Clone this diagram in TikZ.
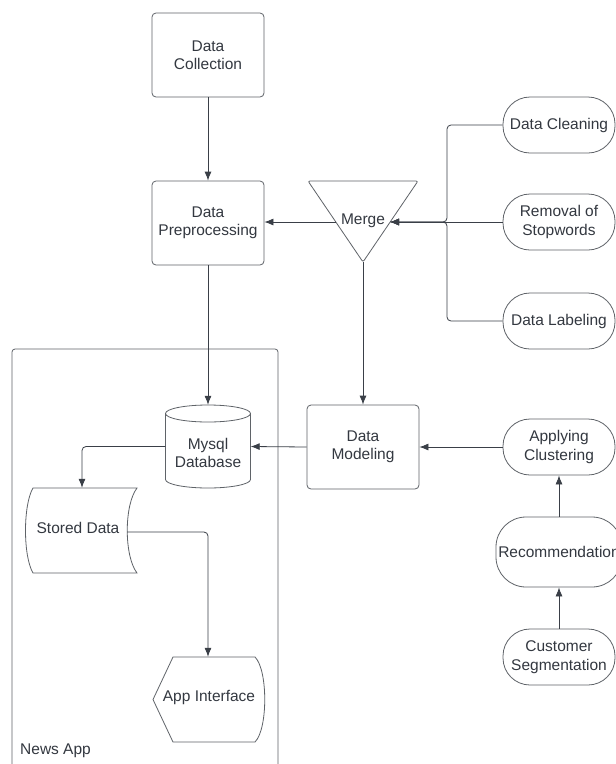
\documentclass[tikz,border=0pt]{standalone}
\usepackage{fontspec}
\setmainfont{Liberation Sans}
\usetikzlibrary{arrows.meta}
\definecolor{ln}{HTML}{3A3F47}
\definecolor{bd}{HTML}{5F6368}
\definecolor{tx}{HTML}{333840}
\begin{document}
\begin{tikzpicture}[x=1pt,y=-1pt,
 font=\fontsize{15.5}{18.5}\selectfont, text=tx,
 box/.style={draw=bd,line width=0.8pt,rounded corners=4pt,minimum width=112pt,minimum height=84pt,align=center,inner sep=0pt},
 pill/.style={draw=bd,line width=0.8pt,rounded corners=27pt,minimum width=112pt,minimum height=56pt,align=center,inner sep=0pt},
 ghost/.style={inner sep=0pt,align=center},
 conn/.style={draw=ln,line width=0.8pt,-{Latex[length=9pt,width=7pt]}},
 shp/.style={draw=bd,line width=0.8pt}]
\useasboundingbox (0,0) rectangle (616,764);
\clip (0,0) rectangle (616,764);
\fill[white] (0,0) rectangle (616,764);

% container
\draw[shp,rounded corners=3pt] (12,349) rectangle (278,800);
\node[ghost,anchor=west] (newsapp) at (20,751) {News App};

% boxes
\node[box] (coll) at (208,55) {Data\\Collection};
\node[box] (prep) at (208,223) {Data\\Preprocessing};
\node[box] (model) at (363,447) {Data\\Modeling};

% merge triangle
\draw[shp,rounded corners=2pt] (308,181) -- (418,181) -- (363,262) -- cycle;
\node[ghost] (merge) at (363,221) {Merge};
\coordinate (mR) at (390,222);
\coordinate (mL) at (336,222);
\coordinate (mB) at (363,262);
\coordinate (bus) at (447,222);

% pills
\node[pill] (clean) at (559,125) {Data Cleaning};
\node[pill] (remove) at (559,222) {Removal of\\Stopwords};
\node[pill] (label) at (559,321) {Data Labeling};
\node[pill] (clust) at (559,447) {Applying\\Clustering};
\node[pill,minimum width=126pt,minimum height=70pt,rounded corners=30pt] (rec) at (559,552) {Recommendation};
\node[pill] (seg) at (559,657) {Customer\\Segmentation};

% cylinder
\node[ghost,minimum width=85pt,minimum height=83pt] (db) at (208,446.5) {};
\draw[shp] (165.5,413.5) -- (165.5,479.5) arc[start angle=180,end angle=0,x radius=42.5,y radius=8.5] -- (250.5,413.5);
\draw[shp] (208,413.5) ellipse[x radius=42.5,y radius=8.5];
\node[ghost] (dbtext) at (208,453) {Mysql\\Database};

% stored data
\node[ghost,minimum width=111pt,minimum height=85pt] (sd) at (82,530.5) {};
\draw[shp] (33,488) -- (137,488) .. controls (124,505) and (124,556) .. (137,573) -- (33,573) .. controls (23,556) and (23,505) .. (33,488) -- cycle;
\node[ghost] (sdtext) at (78,528) {Stored Data};
\coordinate (sdR) at (127,532);

% app interface
\node[ghost,minimum width=112pt,minimum height=85pt] (app) at (208,699.5) {};
\draw[shp] (173,657) -- (255,657) .. controls (268,670) and (268,729) .. (255,742) -- (173,742) -- (153,699.5) -- cycle;
\node[ghost] (apptext) at (209,697) {App Interface};

% connectors
\draw[conn] (coll) -- (prep);
\draw[conn] (mL) -- (mL -| prep.east);
\draw[conn] (mB) -- (model.north);
\draw[conn,rounded corners=4pt] (clean.west) -| (bus) -- (mR);
\draw[conn,rounded corners=4pt] (label.west) -| (bus) -- (mR);
\draw[conn] (remove.west) -- (mR);
\draw[conn] (prep.south) -- (db.north);
\draw[conn] (model.west) -- (db.east);
\draw[conn,rounded corners=4pt] (db.west) -| (sd.north);
\draw[conn,rounded corners=4pt] (sdR) -| (app.north);
\draw[conn] (clust.west) -- (model.east);
\draw[conn] (rec.north) -- (clust.south);
\draw[conn] (seg.north) -- (rec.south);
\end{tikzpicture}
\end{document}
